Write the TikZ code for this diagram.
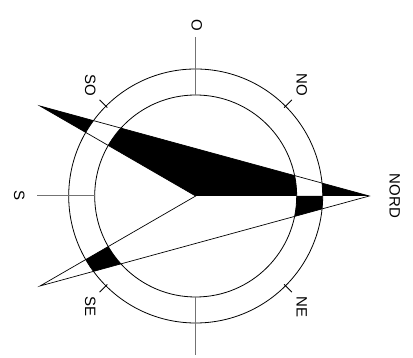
\documentclass[tikz,border=0pt]{standalone}
\usepackage{fontspec}
\setmainfont{Liberation Sans}
\usetikzlibrary{calc}

\begin{document}
\begin{tikzpicture}[x=1pt, y=1pt,
    ringline/.style={line width=0.8pt, black},
    needle/.style={line width=0.7pt, black},
    axisline/.style={line width=1pt, black!55},
    lbl/.style={font=\fontsize{15}{15}\selectfont, rotate=-90, inner sep=0pt}
  ]
    \useasboundingbox (-195.7,-162) rectangle (217.3,196);
    \coordinate (c) at (0,0);
    \coordinate (tipN) at (173.6,0);
    \coordinate (tipA) at (-155.7,90);
    \coordinate (tipB) at (-155.7,-90);
    % black parts of the needle
    \begin{scope}
      \clip (c) -- (tipN) -- (tipA) -- cycle;
      \fill[even odd rule] (-200,-200) rectangle (220,200)
        (c) circle[radius=127] (c) circle[radius=101];
    \end{scope}
    \begin{scope}
      \clip (c) -- (tipN) -- (tipB) -- cycle;
      \fill[even odd rule] (c) circle[radius=127] (c) circle[radius=101];
    \end{scope}
    % rings and axes
    \draw[ringline] (c) circle[radius=127];
    \draw[ringline] (c) circle[radius=101];
    \foreach \a in {90,180,270}
      \draw[axisline] (\a:101) -- (\a:159);
    \foreach \a in {45,135,225,315}
      \draw[ringline] (\a:125) -- (\a:136);
    % needle outline
    \draw[needle] (tipN) -- (tipA) -- (c) -- (tipB) -- cycle;
    % labels
    \node[lbl] (nord) at (199,0) {NORD};
    \node[lbl] (ovest) at (1,171) {O};
    \node[lbl] (sud) at (-176.5,0) {S};
    \node[lbl] (no) at (106,111) {NO};
    \node[lbl] (so) at (-105.5,111) {SO};
    \node[lbl] (ne) at (106,-111) {NE};
    \node[lbl] (se) at (-105.5,-111) {SE};
  \end{tikzpicture}
\end{document}
